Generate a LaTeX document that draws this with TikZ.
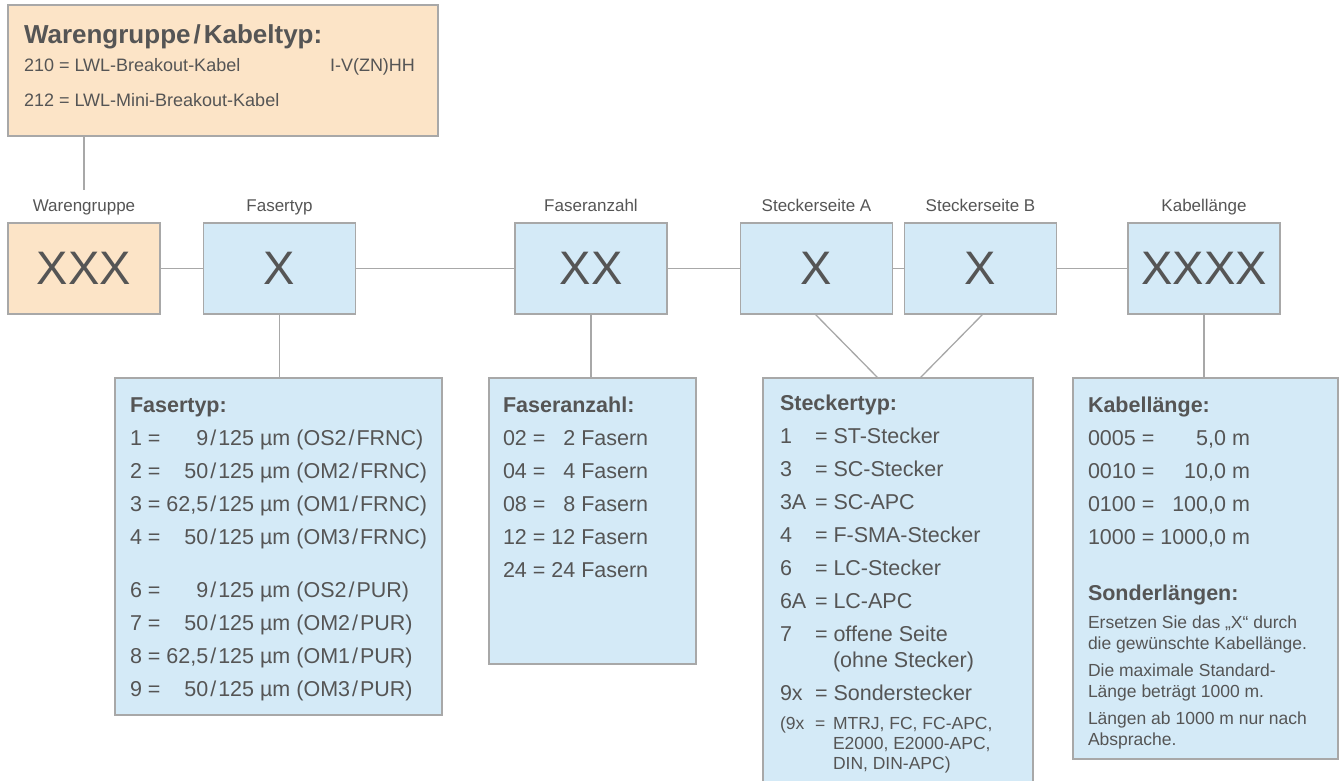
\documentclass[tikz,border=0pt]{standalone}
\usepackage{fontspec}
\setmainfont{Liberation Sans}
\definecolor{peach}{HTML}{FCE4C7}
\definecolor{sky}{HTML}{D4EAF7}
\definecolor{frame}{HTML}{A8A8A8}
\definecolor{ink}{HTML}{555555}
\newcommand\fsl{\kern2pt/\kern2pt}
\begin{document}
\begin{tikzpicture}[x=1pt,y=-1pt,
  every node/.style={inner sep=0pt, outer sep=0pt, text=ink},
  sbox/.style={draw=frame, line width=1.3pt, fill=sky},
  obox/.style={draw=frame, line width=1.3pt, fill=peach},
  codebox/.style={minimum width=152pt, minimum height=91pt, font=\fontsize{47}{47}\selectfont},
  conn/.style={draw=frame, line width=1.3pt},
  lbl/.style={font=\fontsize{17}{19}\selectfont, anchor=base},
  hd/.style={font=\fontsize{21.5}{24}\selectfont\bfseries, anchor=base west},
  bd/.style={font=\fontsize{21.5}{24}\selectfont, anchor=base west},
  sm/.style={font=\fontsize{17.5}{20}\selectfont, anchor=base west},
  tb/.style={font=\fontsize{18}{20}\selectfont, anchor=base west},
]
\useasboundingbox (0,0) rectangle (1341,780);

% top box
\node[obox, anchor=north west, minimum width=430pt, minimum height=131pt] (top) at (8,5) {};
\node[font=\fontsize{26}{28}\selectfont\bfseries, anchor=base west] (toptitle) at (24,43) {Warengruppe\kern3pt/\kern3pt Kabeltyp:};
\node[tb] (t1) at (24,71) {210 = LWL-Breakout-Kabel};
\node[tb] (t1b) at (330,71) {I-V(ZN)HH};
\node[tb] (t2) at (24,106) {212 = LWL-Mini-Breakout-Kabel};

% row of code boxes
\node[obox, codebox] (wg) at (84,268.5) {XXX};
\node[sbox, codebox] (ft) at (279.5,268.5) {X};
\node[sbox, codebox] (fa) at (591,268.5) {XX};
\node[sbox, codebox] (sa) at (816.5,268.5) {X};
\node[sbox, codebox] (sb) at (980.5,268.5) {X};
\node[sbox, codebox] (kl) at (1204,268.5) {XXXX};

\node[lbl] (lwg) at (84,211) {Warengruppe};
\node[lbl] (lft) at (279.5,211) {Fasertyp};
\node[lbl] (lfa) at (591,211) {Faseranzahl};
\node[lbl] (lsa) at (816.5,211) {Steckerseite A};
\node[lbl] (lsb) at (980.5,211) {Steckerseite B};
\node[lbl] (lkl) at (1204,211) {Kabellänge};

\coordinate (tick) at (84,190);
\draw[conn] (top.south -| tick) -- (tick);
\draw[conn] (wg.east) -- (ft.west);
\draw[conn] (ft.east) -- (fa.west);
\draw[conn] (fa.east) -- (sa.west);
\draw[conn] (sa.east) -- (sb.west);
\draw[conn] (sb.east) -- (kl.west);

% lower boxes
\node[sbox, anchor=north west, minimum width=327pt, minimum height=337pt] (ftb) at (115,378) {};
\node[sbox, anchor=north west, minimum width=207pt, minimum height=286pt] (fab) at (489,378) {};
\node[sbox, anchor=north west, minimum width=270pt, minimum height=406pt] (stb) at (763,378) {};
\node[sbox, anchor=north west, minimum width=265pt, minimum height=381pt] (klb) at (1073,378) {};

\draw[conn] (ft.south) -- (ft.south |- ftb.north);
\draw[conn] (fa.south) -- (fa.south |- fab.north);
\draw[conn] (kl.south) -- (kl.south |- klb.north);
\draw[conn] ([xshift=-1.5pt]sa.south) -- ([xshift=-20pt]stb.north);
\draw[conn] ([xshift=2.5pt]sb.south) -- ([xshift=22pt]stb.north);

% Fasertyp
\node[hd] (fth) at (130,412) {Fasertyp:};
\node[bd] (ft1) at (130,445) {1 = \hphantom{62,}9\fsl125 µm (OS2\fsl FRNC)};
\node[bd] (ft2) at (130,478) {2 = \hphantom{6,}50\fsl125 µm (OM2\fsl FRNC)};
\node[bd] (ft3) at (130,511) {3 = 62,5\fsl125 µm (OM1\fsl FRNC)};
\node[bd] (ft4) at (130,544) {4 = \hphantom{6,}50\fsl125 µm (OM3\fsl FRNC)};
\node[bd] (ft6) at (130,597) {6 = \hphantom{62,}9\fsl125 µm (OS2\fsl PUR)};
\node[bd] (ft7) at (130,630) {7 = \hphantom{6,}50\fsl125 µm (OM2\fsl PUR)};
\node[bd] (ft8) at (130,663) {8 = 62,5\fsl125 µm (OM1\fsl PUR)};
\node[bd] (ft9) at (130,696) {9 = \hphantom{6,}50\fsl125 µm (OM3\fsl PUR)};

% Faseranzahl
\node[hd] (fah) at (503,412) {Faseranzahl:};
\node[bd] (fa1) at (503,445) {02 = \hphantom{1}2 Fasern};
\node[bd] (fa2) at (503,478) {04 = \hphantom{1}4 Fasern};
\node[bd] (fa3) at (503,511) {08 = \hphantom{1}8 Fasern};
\node[bd] (fa4) at (503,544) {12 = 12 Fasern};
\node[bd] (fa5) at (503,577) {24 = 24 Fasern};

% Steckertyp
\node[hd] (sth) at (780,410) {Steckertyp:};
\foreach \y/\c/\t [count=\i] in {443/1/ST-Stecker, 476/3/SC-Stecker, 509/3A/SC-APC, 542/4/F-SMA-Stecker, 575/6/LC-Stecker, 608/6A/LC-APC, 641/7/offene Seite, 700/9x/Sonderstecker}{
  \node[bd] (stc\i) at (780,\y) {\c};
  \node[bd] (ste\i) at (815,\y) {= \t};
}
\node[bd] (stohne) at (833,667) {(ohne Stecker)};
\node[sm] (sts1) at (780,729) {(9x};
\node[sm] (sts2) at (815,729) {=};
\node[sm] (sts3) at (833,729) {MTRJ, FC, FC-APC,};
\node[sm] (sts4) at (833,749) {E2000, E2000-APC,};
\node[sm] (sts5) at (833,769) {DIN, DIN-APC)};

% Kabellaenge
\node[hd] (klh) at (1088,412) {Kabellänge:};
\node[bd] (kl1) at (1088,445) {0005 = \hphantom{100}5,0 m};
\node[bd] (kl2) at (1088,478) {0010 = \hphantom{10}10,0 m};
\node[bd] (kl3) at (1088,511) {0100 = \hphantom{1}100,0 m};
\node[bd] (kl4) at (1088,544) {1000 = 1000,0 m};
\node[hd] (klsh) at (1088,600) {Sonderlängen:};
\node[sm] (kls1) at (1088,628) {Ersetzen Sie das „X“ durch};
\node[sm] (kls2) at (1088,649) {die gewünschte Kabellänge.};
\node[sm] (kls3) at (1088,676) {Die maximale Standard-};
\node[sm] (kls4) at (1088,697) {Länge beträgt 1000 m.};
\node[sm] (kls5) at (1088,724) {Längen ab 1000 m nur nach};
\node[sm] (kls6) at (1088,745) {Absprache.};
\end{tikzpicture}
\end{document}
